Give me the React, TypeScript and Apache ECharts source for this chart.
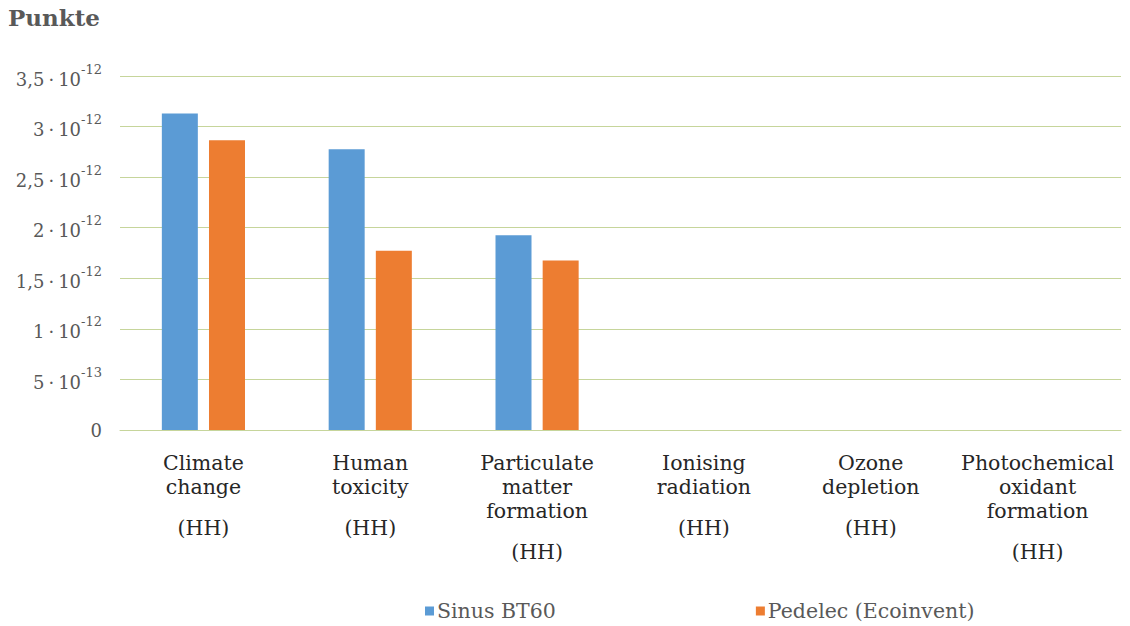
import React, { useEffect, useRef } from "react";
import * as echarts from "echarts";

// Impact categories (each entry holds the wrapped lines of the label)
const categoryLines: string[][] = [
  ["Climate", "change"],
  ["Human", "toxicity"],
  ["Particulate", "matter", "formation"],
  ["Ionising", "radiation"],
  ["Ozone", "depletion"],
  ["Photochemical", "oxidant", "formation"],
];
const categoryUnit = "(HH)";
const categories = categoryLines.map((l) => l.join(" "));

// Scores in points
const sinusBT60 = [3.13e-12, 2.775e-12, 1.925e-12, 0, 0, 0];
const pedelecEcoinvent = [2.865e-12, 1.772e-12, 1.677e-12, 0, 0, 0];

const seriesNames = ["Sinus BT60", "Pedelec (Ecoinvent)"];

// Value axis ticks: mantissa and power-of-ten exponent
const yMin = 0;
const yMax = 3.5e-12;
const yStep = 0.5e-12;
const yTickMantissas = ["0", "5", "1", "1,5", "2", "2,5", "3", "3,5"];
const yTickExponents = ["", "-13", "-12", "-12", "-12", "-12", "-12", "-12"];

const FONT = "DejaVu Serif";

export default function App() {
  const ref = useRef<HTMLDivElement>(null);

  useEffect(() => {
    if (!ref.current) return;
    const chart = echarts.init(ref.current, null, { renderer: "svg" });
    const gridColor = "#c6d59b";
    const labelGray = "#595959";

    chart.setOption({
      animation: false,
      backgroundColor: "#ffffff",
      title: {
        text: "Punkte",
        left: 8,
        top: 6,
        padding: 0,
        textStyle: {
          fontFamily: FONT,
          fontWeight: "bold",
          fontSize: 23,
          color: labelGray,
        },
      },
      legend: {
        data: seriesNames,
        left: 425,
        top: 598,
        padding: 0,
        itemGap: 200,
        itemWidth: 9,
        itemHeight: 9,
        icon: "rect",
        textStyle: {
          fontFamily: FONT,
          fontSize: 20.5,
          lineHeight: 26,
          color: labelGray,
          padding: [0, 0, 0, -2],
        },
      },
      grid: { left: 120, right: 9, top: 76, bottom: 196, containLabel: false },
      xAxis: {
        type: "category",
        data: categories,
        axisLine: { show: true, lineStyle: { color: gridColor, width: 1 } },
        axisTick: { show: false },
        axisLabel: {
          interval: 0,
          margin: 21,
          formatter: (_v: string, i: number) =>
            categoryLines[i].map((l) => `{w|${l}}`).join("\n") + `\n{h|${categoryUnit}}`,
          rich: {
            w: { fontFamily: FONT, fontSize: 20.5, lineHeight: 24, color: "#262626", align: "center" },
            h: { fontFamily: FONT, fontSize: 20.5, lineHeight: 57, color: "#262626", align: "center" },
          },
        },
      },
      yAxis: {
        type: "value",
        min: yMin,
        max: yMax,
        interval: yStep,
        axisLine: { show: false },
        axisTick: { show: false },
        splitLine: { show: true, lineStyle: { color: gridColor, width: 1 } },
        axisLabel: {
          margin: 18,
          formatter: (v: number) => {
            const i = Math.round((v - yMin) / yStep);
            const m = yTickMantissas[i];
            const e = yTickExponents[i];
            if (!e) return `{z|${m}}`;
            return `{m|${m}}{d|·}{m|10}{s|${e}}`;
          },
          rich: {
            z: { fontFamily: FONT, fontSize: 18, lineHeight: 24, color: labelGray },
            m: { fontFamily: FONT, fontSize: 18, lineHeight: 24, color: labelGray, padding: [6, 0, 0, 0] },
            d: { fontFamily: FONT, fontSize: 18, lineHeight: 24, color: labelGray, padding: [6, 4, 0, 4] },
            s: { fontFamily: FONT, fontSize: 13, lineHeight: 15, color: labelGray, padding: [0, 0, 14, 0] },
          },
        },
      },
      series: [
        {
          name: seriesNames[0],
          type: "bar",
          data: sinusBT60,
          barWidth: 36,
          barGap: "31%",
          itemStyle: { color: "#5b9bd5" },
        },
        {
          name: seriesNames[1],
          type: "bar",
          data: pedelecEcoinvent,
          barWidth: 36,
          barGap: "31%",
          itemStyle: { color: "#ed7d31" },
        },
      ],
    });

    return () => chart.dispose();
  }, []);

  return (
    <div
      ref={ref}
      style={{ position: "fixed", left: 0, top: 0, width: 1130, height: 626, background: "#fff" }}
    />
  );
}
